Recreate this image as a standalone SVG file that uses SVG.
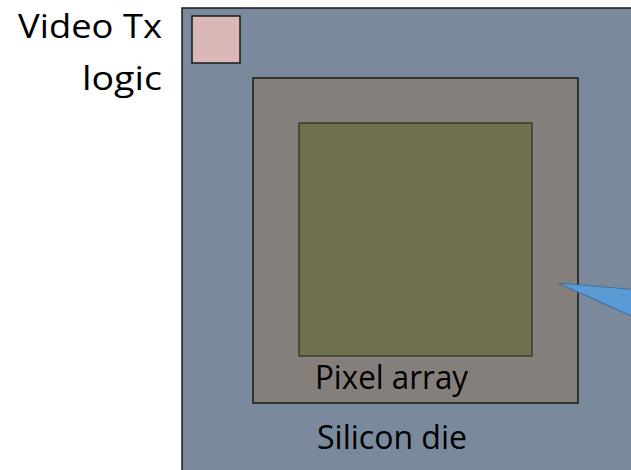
<svg xmlns="http://www.w3.org/2000/svg" width="631" height="470" viewBox="0 0 631 470">
<style>
.t{font-family:"Open Sans","Liberation Sans",sans-serif;font-size:32px;fill:#000}
.box{stroke:#1a1a1a;stroke-width:1.5}
</style>
<rect width="631" height="470" fill="#fff"/>
<g id="die"><rect class="box" x="182" y="8" width="460" height="470" fill="#7a8a9c"/>
<text class="t" x="317" y="449" textLength="150" lengthAdjust="spacingAndGlyphs">Silicon die</text></g>
<g id="txlogic"><rect class="box" x="192" y="16" width="48" height="47" fill="#dbb8b8"/></g>
<g id="pixel"><rect class="box" x="253" y="78" width="325" height="325" fill="#857f7b"/>
<text class="t" x="315" y="389" textLength="153" lengthAdjust="spacingAndGlyphs">Pixel array</text></g>
<g id="core"><rect x="299" y="123" width="233" height="233" fill="#6f7050" stroke="#2e2e20" stroke-width="1.2"/></g>
<g id="label"><text class="t" x="18" y="38" textLength="144" lengthAdjust="spacingAndGlyphs">Video Tx</text>
<text class="t" x="82" y="90" textLength="80" lengthAdjust="spacingAndGlyphs">logic</text></g>
<g id="connectors"><polygon points="558,283 640,290 640,320" fill="#5b9bd5" stroke="#41719c" stroke-width="1.2"/></g>
</svg>
